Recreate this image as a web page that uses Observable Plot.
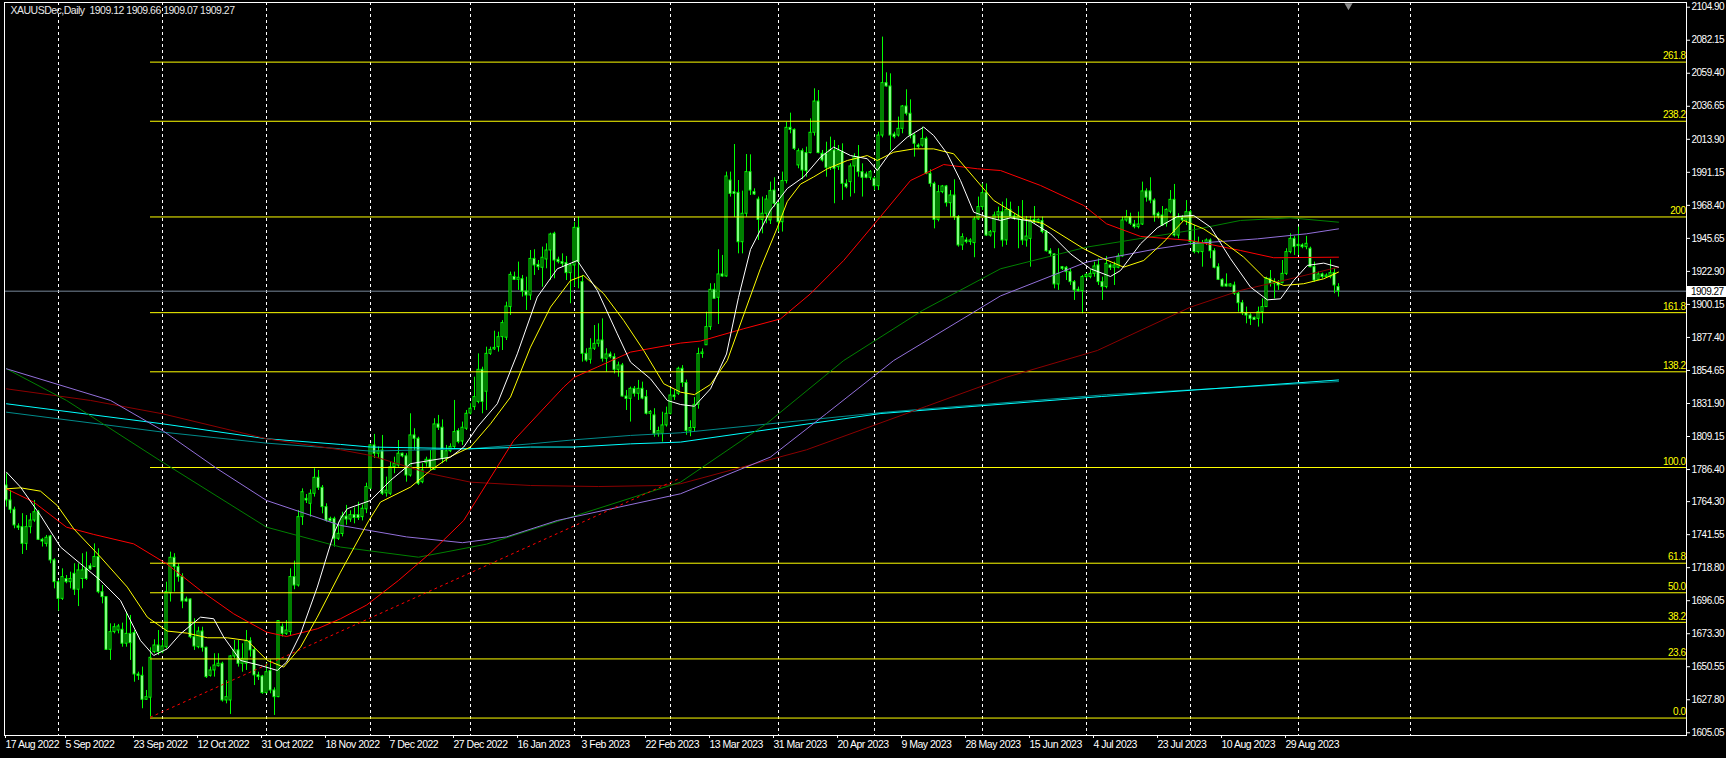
<!DOCTYPE html>
<html><head><meta charset="utf-8">
<script src="https://cdn.jsdelivr.net/npm/d3@7"></script>
<script src="https://cdn.jsdelivr.net/npm/@observablehq/plot@0.6"></script>
<style>
html,body{margin:0;padding:0;background:#000;overflow:hidden}
#chart svg{display:block}
#chart svg text{letter-spacing:-0.5px}
</style></head><body><div id="chart"></div>
<script>
// ---------- data ----------
const titleText = "XAUUSDec,Daily\u00a0\u00a01909.12 1909.66 1909.07 1909.27";
const lastPrice = 1909.27;

const open = [
1775.4,1765.1,1758.7,1747.2,1746.7,1735.2,1746.7,1751.3,1757,1738,
1735.2,1740.3,1723.8,1708.8,1697.3,1711,1708.8,1714.6,1703.6,1711,
1718,1719.8,1719.2,1726.1,1701.9,1698.5,1662.2,1674.4,1675.5,1676,
1666.4,1673.2,1673.7,1645.2,1644.3,1627.8,1629.2,1660.6,1665.2,1660.6,
1664,1701.2,1725.6,1719.2,1712.3,1696.9,1696.9,1670.9,1664,1674.8,
1663.6,1644.3,1648,1650.9,1652.6,1627.3,1627.3,1657.6,1661.8,1652.6,
1652.6,1668.2,1662,1644.6,1643.8,1632.4,1647.5,1634.2,1629.6,1678,
1673.2,1674.4,1712.3,1706.5,1753.6,1766.2,1762.8,1769.7,1780.7,1773.8,
1760.5,1752.4,1752.4,1738.7,1742,1754,1752,1755,1755,1753.6,
1759,1773.1,1803,1797.3,1799.5,1770,1769.7,1788,1789.2,1797.3,
1795.5,1782.3,1809.9,1807.6,1777.7,1790.8,1793.1,1786.2,1817.5,1815.2,
1793.8,1799,1802,1812.9,1805.7,1814.5,1825,1829.4,1833,1855.1,
1840,1866.1,1869.2,1870.7,1877.6,1877.2,1898.3,1919.1,1917.1,1917.5,
1909,1906.3,1931.5,1927.4,1925.4,1931.1,1937.3,1948.8,1930.9,1929.3,
1928.6,1921.7,1927,1952.9,1915.5,1866.1,1862,1869.6,1873,1875.3,
1862.7,1865.7,1863.8,1855.1,1858.1,1836.7,1835.1,1842,1838.6,1842,
1836.3,1824.8,1823.7,1811,1811,1816.8,1824.8,1837.4,1838.6,1855.8,
1846,1813,1815,1831,1866,1872,1884.5,1910.2,1904.7,1920.8,
1919.4,1985.5,1977.5,1977,1943,1962.6,1991.3,1977.5,1972.4,1958.4,
1962.6,1958,1978.6,1969.5,1956.8,1985.1,2021.8,2020.4,1995.9,2005.7,
2004.4,2004.4,2018.4,2039.9,2003.9,2003.9,1994.3,2006.2,1994.7,2005,
1983.2,1984.4,1995.2,2001.6,1991.3,1989.7,1987.4,1986.7,1981.6,2016.5,
2052.6,2050.3,2017.2,2016.5,2021.1,2036.5,2031.5,2016.5,2009.6,2009.6,
2014.2,1990.1,1983.2,1958.4,1977.5,1981.4,1969.9,1975.2,1960.3,1940.8,
1944.2,1943.1,1942.4,1958.7,1967.2,1976.8,1947.6,1949.9,1961.4,1963.7,
1944.2,1965.3,1960.7,1959.1,1958.4,1944.2,1945.3,1958.4,1956.8,1957.5,
1950,1936.8,1934.6,1913.9,1925.8,1925.4,1922.4,1915.5,1910.2,1909.3,
1919,1919,1921.2,1927,1915.5,1912.1,1927,1925.4,1925.4,1933.2,
1958,1960.3,1955.2,1953.4,1955.2,1978,1978,1971.7,1962.6,1961.4,
1955.7,1964,1972.2,1947.6,1959.8,1958,1963.7,1943.1,1936.2,1936.2,
1942.4,1944.2,1936.8,1925.8,1917.1,1913.9,1912.5,1913.2,1907.5,1901,
1894.1,1892.5,1890.9,1890.2,1894.8,1898.3,1917.8,1914.4,1915.5,1914.8,
1921.2,1936.2,1945.3,1941.2,1940.8,1939.6,1938.5,1925.8,1917.1,1920.8,
1919,1919,1921.7,1912.1];
const high = [
1783.5,1772,1760.5,1749,1756,1754.7,1756,1765.1,1758.2,1739,
1741,1741,1724.9,1710,1718,1713.4,1715.7,1721.5,1721.5,1728.4,
1729.5,1721.5,1735.2,1731.8,1706.5,1698.5,1680.1,1680.1,1679.7,1680.6,
1688.2,1685.9,1675.5,1646.8,1650.3,1634.2,1663.6,1669.1,1675.5,1668.6,
1708.8,1729.5,1728.4,1721.5,1714.6,1698.5,1697.3,1683.6,1677.8,1677.8,
1664,1650.3,1659.5,1659.5,1653.7,1641,1658.3,1668.6,1668.6,1666.4,
1675.5,1670.5,1664,1646.8,1644.6,1652.6,1655.3,1636,1682.4,1680,
1682.4,1718,1723.3,1758.2,1773.1,1769.2,1772.4,1786.9,1785.8,1775.4,
1762.8,1753.6,1753.6,1750.2,1757,1761.7,1758,1760,1763.9,1762,
1777,1804,1810.6,1801.9,1809.9,1781.2,1791.5,1794.9,1806.4,1797.7,
1797.3,1824.8,1814.5,1808.7,1790.4,1794.9,1799.5,1821.4,1823.7,1820.6,
1803,1804.1,1834,1814.5,1819.1,1827.1,1831.7,1850,1866.1,1856.9,
1870.7,1870.7,1881.7,1881,1889,1901.7,1922.4,1922.4,1929.3,1920.1,
1918.9,1937.3,1937.8,1930.4,1939.6,1941.9,1949.2,1949.9,1932.7,1935,
1933.2,1928.1,1956.8,1960.3,1920.1,1869.6,1876.5,1885.6,1886.8,1890.2,
1869.6,1867.3,1866.1,1860.4,1859.5,1840.9,1843.2,1843.6,1847.8,1846.6,
1840.9,1827.1,1828.3,1815.6,1825.9,1829.4,1842,1840.9,1856.9,1858,
1848,1820,1836,1870,1869.5,1894.8,1914.4,1914.4,1937.8,1933.9,
1991.3,1991.3,2010.3,1985.5,1978.2,2003.4,2003.2,1979.8,1974.1,1974.1,
1975.2,1984.4,1987.4,1970.6,1991.3,2025.7,2031.9,2021.1,2007.3,2007.3,
2008.5,2028,2048.7,2047.5,2006.2,2011.9,2015.4,2013.1,2009.6,2010.8,
1986,1997,2003.9,2009.6,1997,1991.3,1992.4,1987.8,2018.8,2084.3,
2059.7,2059,2018.8,2029.2,2037.2,2048,2041.1,2017.7,2010.8,2022.3,
2015.4,1992.9,1984.4,1982.1,1982.1,1982.1,1978.6,1986,1961.4,1948.8,
1946,1945.4,1960.3,1974.1,1983.2,1983.2,1951.1,1963.7,1967.2,1970.6,
1972.9,1970.6,1962.6,1967.6,1971.7,1960.7,1960.7,1967.6,1959.1,1960.3,
1951.1,1938.5,1935,1938.5,1926.3,1926.3,1924.7,1916.6,1912.1,1920.1,
1921.2,1924,1929.3,1931.6,1918.9,1933.2,1928.1,1929.3,1935,1960.3,
1964.9,1963,1958,1963.7,1984.4,1979.8,1987.4,1972.9,1963.7,1967.6,
1966,1978.6,1982.8,1962.6,1961.4,1971.7,1964.9,1954.5,1946.5,1944.2,
1945.3,1945.3,1938.5,1928.1,1917.8,1921.2,1914.4,1915.5,1908.6,1902.9,
1898.3,1893.7,1891.4,1898.3,1904,1918.9,1923.5,1917.8,1916.6,1930.4,
1938.5,1948.8,1947,1953.4,1941.9,1947,1939.6,1929.3,1922.4,1921.7,
1921.2,1930.9,1924.7,1914.4];
const low = [
1760.5,1756,1745.6,1744.4,1727.9,1730.6,1742.1,1750,1737.5,1733,
1733,1721.5,1704.2,1688.9,1696.2,1707.7,1704.2,1699.6,1692,1704.2,
1710,1716.9,1719.2,1700.8,1693.9,1661.8,1654.9,1673.2,1673.2,1664,
1664,1654.9,1639.9,1641.1,1621.6,1627.3,1615.8,1659.5,1658.3,1659.5,
1662.9,1695.1,1702,1708.8,1690.5,1695.1,1669.8,1661.8,1662.9,1660.6,
1642.5,1643.4,1643.4,1650.3,1626.2,1625,1617.7,1656,1650.3,1646.8,
1648,1657.2,1637.6,1641.1,1631.5,1631.9,1631.9,1617,1629.2,1671,
1672.1,1672.1,1703.6,1705.4,1747.9,1763,1753.6,1767.4,1772,1755.9,
1750.2,1750.2,1733,1737.5,1740,1748,1750,1749,1751.3,1751,
1756,1773,1794,1794,1768.5,1767.4,1768.5,1783.5,1788,1794.5,
1777.7,1781.2,1799.5,1775.4,1776.6,1788,1785.8,1785.8,1813.3,1790.4,
1791.5,1798,1800.7,1804.1,1803,1813.3,1824,1827.1,1831.7,1824.8,
1827.1,1865,1868.4,1867.3,1868.4,1875.3,1892.5,1916.6,1909.8,1905.2,
1896,1902.9,1920.1,1923.5,1912,1924.7,1916.6,1917.8,1928.1,1925.8,
1916.6,1900.6,1912,1910.9,1860.4,1860.4,1859,1868.4,1870.7,1860.4,
1853.5,1862.7,1852.3,1850,1836.3,1827.1,1819.1,1836.3,1834,1834.5,
1824,1813.3,1808.7,1808.7,1805.3,1815.6,1824,1834,1837.4,1843,
1810,1809,1812,1828,1863,1871.9,1882.2,1904,1886.3,1918.9,
1918.9,1974.1,1960,1935,1935,1960.3,1975.2,1975.2,1944.2,1948.8,
1955.7,1955.2,1967.2,1950,1950,1983.2,2017.7,2006.2,1993.6,1986,
1987.8,2003.9,2016.1,2003.9,1998.2,1987.8,1992.4,1969.5,1992.4,1971.8,
1979.8,1974.1,1976.4,1987.8,1974.1,1986.7,1985.5,1978.6,1978.6,2014.9,
2049.8,2006.2,2014.2,2015.4,2017.7,2030,2014.2,2001.6,2007.3,2008.5,
1989.5,1980.9,1952.2,1957,1976.4,1967.2,1960.3,1958,1939.6,1937.3,
1941.9,1940.8,1932.3,1958,1964.9,1947,1946.5,1938.5,1958,1939.6,
1940.8,1959.8,1958,1938.5,1940.8,1939.6,1925.8,1955.7,1955.7,1948.8,
1936.2,1933.2,1910.9,1909.8,1923.5,1916.6,1913.2,1902.9,1908.6,1893.7,
1917.8,1917.8,1918.9,1913.2,1902.9,1910.9,1923.5,1913.2,1924.7,1932.7,
1956.8,1954.5,1952.2,1952.2,1954.5,1970.6,1969.5,1956.8,1959.1,1953.8,
1953.4,1962.6,1946.5,1945.3,1956.8,1954.5,1940.8,1935,1935,1925.8,
1940.8,1931.6,1924.7,1916.6,1912.1,1912.1,1912.1,1906.3,1894.8,1892.5,
1886.8,1885.6,1889.1,1884.5,1886.8,1898.3,1912.1,1904,1909.8,1914.4,
1920.1,1935,1933.9,1933.9,1938.5,1937.8,1925.4,1915.5,1916.6,1917.8,
1918.5,1917.8,1907.5,1905.2];
const close = [
1765.1,1758.7,1747.9,1746.3,1735.2,1746.7,1751.3,1757,1738,1736.8,
1739.4,1723.8,1708.8,1697.3,1712.3,1708.8,1711,1703.6,1716.9,1716.9,
1711,1717.6,1726.1,1701.9,1698.5,1662.2,1674.4,1677.8,1678.3,1666.4,
1673.2,1666.8,1645.2,1644.3,1627.8,1629.6,1656.7,1665.2,1660.6,1664.5,
1702,1725.6,1719.2,1712.3,1695.5,1695.5,1670.9,1664.5,1674.8,1663.6,
1643.4,1648,1651.4,1652.6,1627.3,1629.6,1657.6,1661.8,1652.6,1656,
1668.2,1661.8,1644.6,1643.4,1632.4,1646.8,1634.2,1629.6,1682,1673.2,
1675.5,1712.3,1706.5,1753.6,1770.8,1765.1,1769.7,1780.7,1773.8,1760.5,
1751.3,1750.8,1738.7,1742.1,1754,1752,1755,1753,1753,1759.4,
1774.3,1803,1797.3,1799,1769.7,1771.9,1788,1790.4,1797.3,1795.5,
1782.3,1809.9,1807.6,1776.6,1785.8,1793.1,1787.6,1817.5,1815.2,1793.8,
1799,1802,1812.2,1805.3,1815.2,1824.8,1828.3,1836.3,1855.1,1833,
1866.1,1868.8,1870.2,1877.6,1887.3,1898.7,1920.5,1917.1,1918.5,1909,
1906.3,1931.5,1927,1925.8,1932.3,1937.3,1948.3,1930.4,1929.3,1928.1,
1921.7,1927,1952.9,1929.3,1866.1,1861.5,1869.6,1873,1875.3,1862.7,
1865.7,1863.8,1855.1,1858.1,1836.7,1835.1,1842,1838.6,1842,1835.3,
1824.8,1826,1811,1812.9,1816.8,1824.8,1837.4,1836.3,1855.8,1846,
1813,1815,1831,1866,1867,1884.5,1910.2,1904,1920.8,1919.4,
1988.3,1976.3,1976.3,1943,1962.6,1991.3,1978.6,1975.9,1958.4,1962.6,
1972.4,1978.2,1969.5,1956.8,1985.1,2021.8,2020.4,2007.3,2005.7,1992.4,
1992,2018.4,2039.9,2004.4,1999.3,1994.3,2006.2,1993.6,2006.2,1983.2,
1980.9,1995.2,2001.6,1991.3,1987.4,1987.4,1991.3,1981.6,2016.5,2052.6,
2050.3,2016.5,2015.4,2021.1,2036.5,2031.5,2016.5,2010.8,2008.5,2014.2,
1990.1,1983.2,1958.4,1977.5,1981.4,1969.9,1975.2,1960.3,1940.8,1946.5,
1943.1,1944.2,1958.7,1967.2,1976.8,1947.6,1949.9,1961.4,1963.7,1944.2,
1965.3,1960.3,1959.1,1960.7,1944.2,1946.9,1958,1956.8,1958.4,1950,
1936.8,1935,1913.9,1921.2,1924.7,1922.4,1915.5,1909.8,1909.3,1919,
1920.5,1921.2,1926.3,1915.5,1912.1,1928.1,1925.4,1927,1933.2,1958,
1960.3,1955.7,1953.4,1955.2,1978,1973.7,1971.7,1961.4,1960.7,1954.5,
1965.3,1972.2,1947.6,1959.8,1958,1963.7,1943.1,1936.2,1942.4,1942.4,
1944.2,1936.8,1925.4,1917.1,1912.5,1912.5,1913.9,1907.5,1901,1894.1,
1892.5,1890.2,1889.5,1894.8,1898.3,1917.8,1914.4,1915.5,1913.2,1921.2,
1936.2,1945.3,1939.6,1940.3,1939.6,1941.9,1925.8,1916.6,1920.8,1919,
1920,1921.7,1913.2,1909.27];

// moving averages: [bar index, price]
const maWhite = [[0,1784.6],[3.5,1774.3],[8.5,1754.8],[13.5,1733],[18.5,1721.5],[23.5,1710],[28.5,1696.2],[33.5,1668.6],[36.8,1658.3],[40.2,1662.9],[43.5,1673.2],[48.5,1684.7],[51.8,1683.6],[54.3,1671],[58.5,1654.9],[63.5,1651.4],[67.7,1648],[70,1653.7],[73.5,1673.2],[77.7,1705.4],[81.8,1742.1],[83.5,1752.5],[85.2,1759.4],[91,1765.1],[96,1778.9],[101,1790.4],[106,1792.7],[111,1794.9],[114.3,1801.9],[117.7,1815.6],[122.7,1831.7],[127.7,1866.1],[132.7,1905.2],[137.7,1924.7],[142.7,1930.4],[147.7,1909.8],[152.7,1879.9],[156,1860.4],[161,1848.9],[165.2,1834],[168.5,1831.2],[172,1830],[176,1842],[180,1866],[183,1905],[186,1938],[191,1965],[195.2,1980],[199.3,1988],[203.5,2001.6],[206.8,2008.5],[211,2002.7],[215.2,2000.5],[217.7,1992.4],[221,2005],[225.2,2015.4],[229.3,2022.3],[231.8,2016.5],[235.2,2003.9],[238.5,1985.5],[241.8,1963.7],[245.2,1960.3],[248.5,1958],[251,1959.8],[256,1957.5],[261,1948.8],[266,1935],[271,1924.7],[276,1919.4],[278.5,1923.5],[283.5,1941.9],[287.7,1952.9],[292.7,1960.7],[296.8,1961.4],[301,1953.4],[306,1931.6],[311,1912.1],[315.2,1903.3],[318.5,1904],[321.8,1916.6],[325.2,1927],[329.3,1928.6],[333,1925.8]];
const maYellow = [[0,1773.1],[3.5,1773.8],[8.5,1771.5],[12.7,1761.6],[16.8,1745.6],[23.5,1726.1],[30.2,1705.4],[35.2,1684.7],[40.2,1675.1],[45.2,1673.7],[50.2,1670.5],[55.2,1670.5],[60.2,1668.6],[65.2,1654.9],[69.3,1650.3],[73.5,1664],[77.7,1684.7],[83.5,1715.7],[90.6,1751.3],[93.5,1764],[101,1774.3],[106,1785.8],[111,1795.4],[116,1801.9],[121,1817.9],[126,1836.3],[131,1870.7],[136,1898.3],[141,1916.6],[144.3,1920.1],[149.3,1907.5],[154.3,1889.1],[159.3,1868.4],[164.3,1845.5],[168.5,1839.7],[172,1838],[176,1845],[180.2,1861.5],[184.3,1893],[188.5,1925],[192.7,1953],[195.2,1971],[198.5,1983],[201.8,1988],[205.2,1993.6],[210.2,1999.3],[215.2,2002.7],[217.7,1999.3],[221.8,2005],[226.8,2007.3],[231.8,2007.3],[236.8,2003.9],[241.8,1987.8],[246.8,1971.8],[254.3,1959.1],[259.3,1955.7],[269.3,1938.5],[274.3,1931.6],[279.3,1925.8],[284.3,1930.4],[289.3,1943.1],[294.3,1958],[299.3,1952.2],[304.3,1943.1],[309.3,1932.7],[314.3,1919],[319.3,1913.2],[324.3,1914.4],[329.3,1917.8],[333,1922.4]];
const maRed = [[0,1773.1],[6.8,1764],[15,1746.7],[21.8,1741.7],[31.8,1735.2],[40,1721.5],[48.5,1703.1],[56.8,1687],[65,1674.4],[70,1671.4],[77.7,1676.7],[83.5,1683.6],[90,1693],[98,1710],[106,1729],[114.3,1751.3],[126.8,1806.4],[139.3,1843.2],[142,1850],[147.7,1857],[156,1867.3],[168.5,1873.5],[173.5,1874.9],[184.3,1883.4],[193.5,1890.2],[201,1907.5],[209.3,1930.4],[217.7,1958],[226,1985.5],[234.3,1996.5],[242.7,1993.6],[248.5,1992.4],[258.5,1982.1],[269.3,1968.3],[275,1955.7],[283.5,1947],[296,1944.2],[308.5,1937.3],[316.8,1932.3],[333,1932.7]];
const maPurple = [[0,1855.8],[26,1834],[39,1813.3],[52.7,1786.9],[65,1765.1],[83.5,1747.9],[100,1740],[114,1736],[125,1740],[137.7,1751.3],[168.5,1769.7],[191,1795],[205,1825],[221.8,1861.5],[248.5,1906],[270,1929.3],[287.7,1938.5],[296,1942],[312.7,1945.3],[325,1948.8],[333,1952.2]];
const maGreen = [[0,1855.8],[15,1834],[39,1791.5],[65,1746.7],[83.5,1733],[103,1726],[120,1735],[138.5,1751.3],[168.5,1777.7],[190,1818],[209.3,1861.5],[229,1896],[248.5,1924.7],[270,1939.6],[296,1951.1],[308.5,1958],[321,1959.8],[333,1956.8]];
const maDarkRed = [[0,1842],[21,1834],[39,1824.8],[65,1807.6],[83.5,1800],[91,1796.1],[106,1783.5],[116,1777.7],[131,1775.4],[148,1774.7],[164,1775.4],[168.5,1776.6],[200,1800],[230,1830],[250,1850],[272.7,1868.4],[296,1898.3],[308.5,1909.8],[321,1917.8],[333,1925.8]];
const maTeal = [[0,1825.9],[39,1812.2],[65,1804.6],[83.5,1800.7],[91,1799.1],[116,1800.7],[131,1804.1],[142,1806.9],[156,1809.9],[168.5,1811.7],[220,1826],[275,1838],[333,1847]];
const maCyan = [[0,1831.7],[39,1817.9],[65,1807.6],[83.5,1803.7],[91,1801.9],[116,1800.7],[131,1801.9],[142,1801.9],[156,1804.1],[168.5,1805.3],[218.6,1825],[273.7,1836.7],[333,1848.1]];
const trendLine = [[36,1615.8],[168,1780]];

// Fibonacci levels
const fibLevels = [0, 23.6, 38.2, 50.0, 61.8, 100.0, 138.2, 161.8, 200, 238.2, 261.8];
const fibLabels = ["0.0","23.6","38.2","50.0","61.8","100.0","138.2","161.8","200","238.2","261.8"];
const fibLow = 1615.2, fibRange = 172.6, fibStart = 36;

// axes
const yTicks = [2104.90,2082.15,2059.40,2036.65,2013.90,1991.15,1968.40,1945.65,1922.90,1900.15,1877.40,1854.65,1831.90,1809.15,1786.40,1764.30,1741.55,1718.80,1696.05,1673.30,1650.55,1627.80,1605.05];
const dateIdx = [0,15,32,48,64,80,96,112,128,144,160,176,192,208,224,240,256,272,288,304,320];
const dateLabels = ["17 Aug 2022","5 Sep 2022","23 Sep 2022","12 Oct 2022","31 Oct 2022","18 Nov 2022","7 Dec 2022","27 Dec 2022","16 Jan 2023","3 Feb 2023","22 Feb 2023","13 Mar 2023","31 Mar 2023","20 Apr 2023","9 May 2023","28 May 2023","15 Jun 2023","4 Jul 2023","23 Jul 2023","10 Aug 2023","29 Aug 2023"];
const monthGrid = [13,39,65,91,116,142,166,193,217,244,270,296,323,351];
const shiftIdx = 335.5;

// ---------- chart ----------
const candles = open.map((o, i) => ({i, open: o, high: high[i], low: low[i], close: close[i]}));
const labelMap = new Map(dateIdx.map((d, k) => [d, dateLabels[k]]));
const xMax = 420;
const FONT = "'Liberation Sans Narrow','Liberation Sans',Arial,sans-serif";

const maLine = (pts, color) => Plot.line(pts, {x: d => d[0], y: d => d[1], stroke: color, strokeWidth: 1, curve: "linear"});

const priceBox = (index, scales, values, dimensions) => {
  const y = Math.round(scales.y(lastPrice));
  const x0 = dimensions.width - dimensions.marginRight + 1;
  const g = d3.create("svg:g");
  g.append("rect").attr("x", x0).attr("y", y - 5).attr("width", dimensions.marginRight).attr("height", 11).attr("fill", "#fff");
  g.append("text").attr("x", x0 + 4).attr("y", y + 4).attr("fill", "#000").attr("text-anchor", "start")
    .attr("font-family", FONT).attr("font-size", 10).text(lastPrice.toFixed(2));
  return g.node();
};

const chart = Plot.plot({
  width: 1726, height: 758,
  marginLeft: 4, marginRight: 40, marginTop: 2, marginBottom: 23,
  style: {background: "#000", color: "#fff", fontFamily: FONT, fontSize: "10px"},
  x: {domain: [-0.5, xMax], axis: null},
  y: {domain: [1603.18, 2108.14], axis: null},
  marks: [
    Plot.ruleX(monthGrid, {x: d => d, stroke: "#fff", strokeDasharray: "3,3", strokeWidth: 1}),
    Plot.ruleY([lastPrice], {stroke: "#778899"}),
    Plot.ruleX(candles, {x: "i", y1: "low", y2: "high", stroke: "#00ff00", strokeWidth: 1}),
    Plot.rect(candles, {x1: d => d.i - 0.25, x2: d => d.i + 0.25,
      y1: d => Math.min(d.open, d.close), y2: d => Math.max(d.open, d.close),
      fill: d => d.close < d.open ? "#fff" : "#000", stroke: "#00ff00", strokeWidth: 1}),
    Plot.ruleY(fibLevels, {y: d => fibLow + d / 100 * fibRange, x1: fibStart, x2: xMax, stroke: "#ffff00", strokeWidth: 1}),
    maLine(maTeal, "#008b8b"),
    maLine(maCyan, "#00ffff"),
    maLine(maDarkRed, "#8b0000"),
    maLine(maGreen, "#008000"),
    maLine(maPurple, "#9370db"),
    maLine(maRed, "#ff0000"),
    maLine(maYellow, "#ffff00"),
    maLine(maWhite, "#ffffff"),
    Plot.line(trendLine, {x: d => d[0], y: d => d[1], stroke: "#ff0000", strokeWidth: 1, strokeDasharray: "2,4"}),
    Plot.text(fibLevels, {y: d => fibLow + d / 100 * fibRange, text: (d, k) => fibLabels[k],
      frameAnchor: "right", textAnchor: "end", dx: -1, dy: -6, fill: "#ffff00", fontSize: 10}),
    Plot.text([titleText], {frameAnchor: "top-left", textAnchor: "start", lineAnchor: "top", dx: 6, dy: 4, fill: "#e8e8e8", fontSize: 10.5}),
    Plot.axisY({anchor: "right", ticks: yTicks, tickFormat: d => d.toFixed(2), tickSize: 3, tickPadding: 2, fontSize: 10, label: null}),
    Plot.axisX({ticks: dateIdx, tickFormat: d => labelMap.get(d), tickSize: 3, tickPadding: 2, textAnchor: "start", dx: -1, fontSize: 10.5, label: null}),
    Plot.frame({stroke: "#fff"}),
    Plot.dot([shiftIdx], {x: d => d, frameAnchor: "top", dy: 3, symbol: "triangle", rotate: 180, r: 3, fill: "#8c8c8c", stroke: "none"}),
    priceBox
  ]
});
document.getElementById("chart").append(chart);
</script></body></html>
